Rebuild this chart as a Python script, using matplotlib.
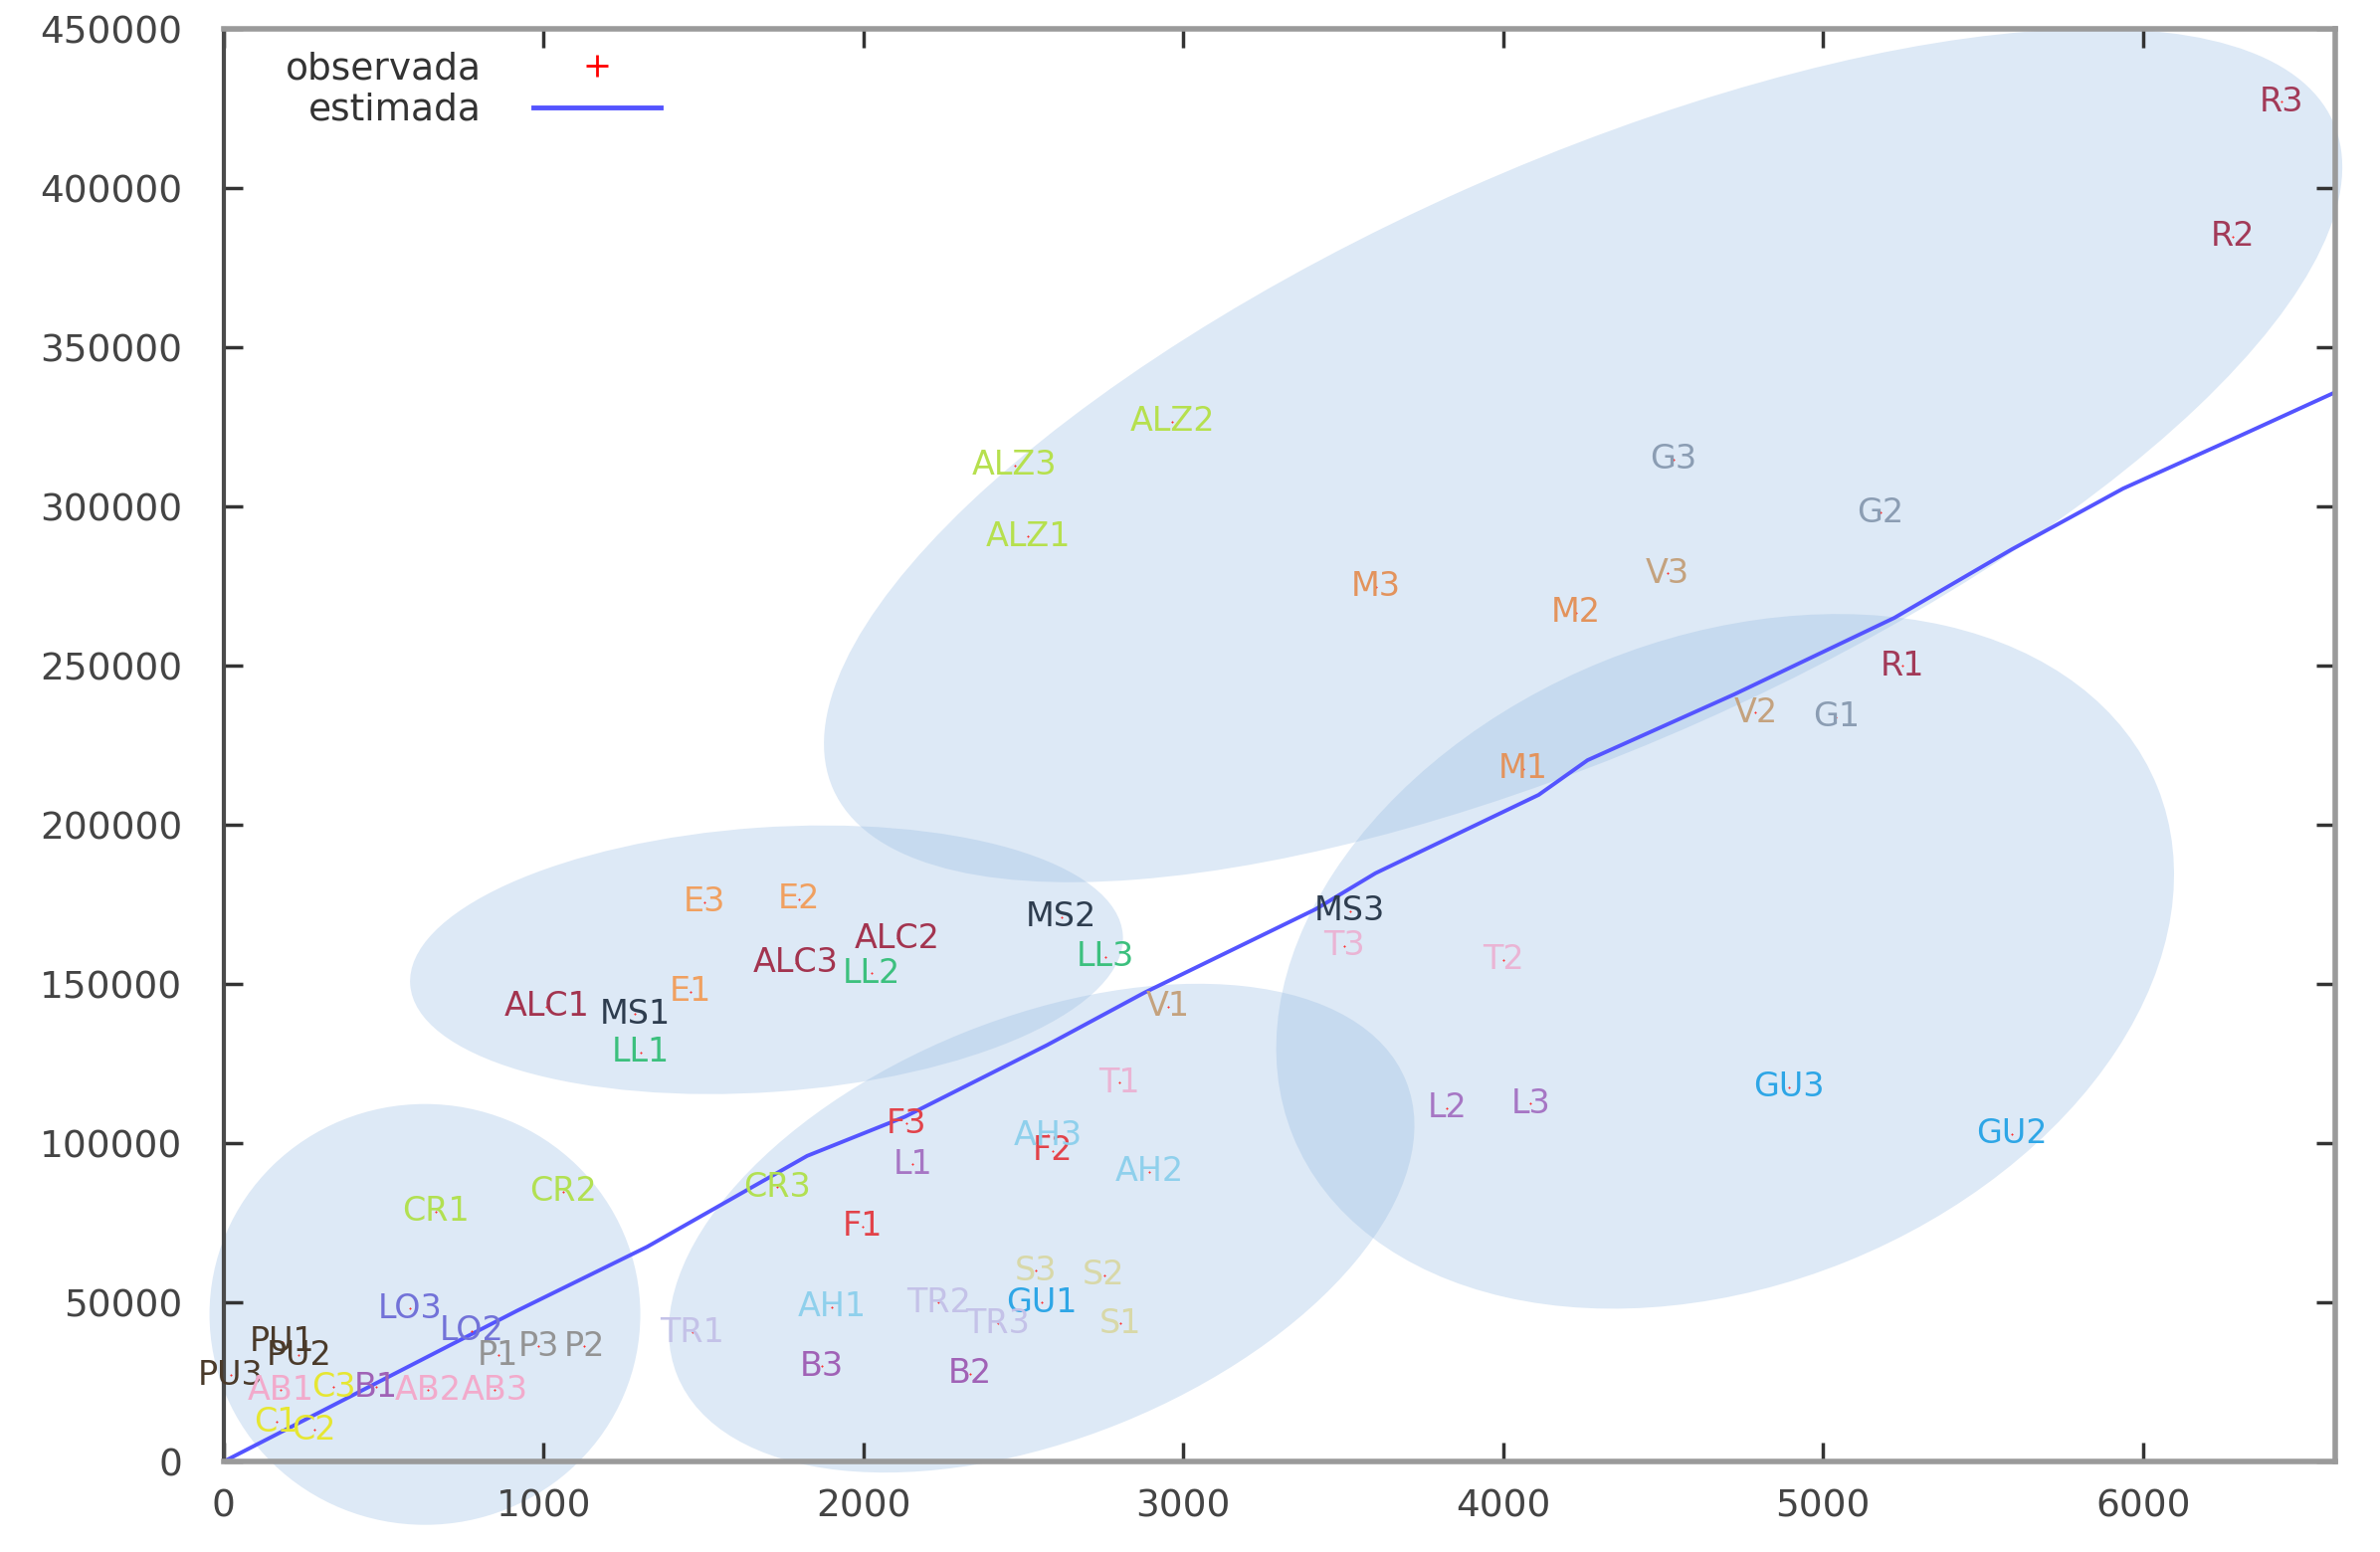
import numpy as np
import matplotlib
matplotlib.use("Agg")
import matplotlib.pyplot as plt
from matplotlib.patches import Ellipse
from matplotlib.transforms import IdentityTransform
from matplotlib.lines import Line2D

# observed points (label, x, y)
names = ["R3", "R2", "R1", "G3", "G2", "G1", "V3", "V2", "V1", "M3", "M2", "M1",
         "ALZ3", "ALZ2", "ALZ1", "MS3", "MS2", "MS1", "T3", "T2", "T1",
         "E3", "E2", "E1", "ALC2", "ALC3", "ALC1", "LL2", "LL3", "LL1",
         "L2", "L3", "L1", "GU3", "GU2", "GU1", "F3", "F2", "F1",
         "AH3", "AH2", "AH1", "CR1", "CR2", "CR3", "S3", "S2", "S1",
         "TR2", "TR3", "TR1", "B3", "B2", "LO3", "LO2", "P1", "P3", "P2",
         "PU1", "PU2", "PU3", "AB1", "AB2", "AB3", "C3", "B1", "C1", "C2"]
obs_x = [6432, 6280, 5249, 4532, 5179, 5041, 4513, 4789, 2951, 3602, 4228, 4062,
         2472, 2966, 2515, 3521, 2619, 1285, 3502, 4000, 2800,
         1503, 1797, 1460, 2106, 1789, 1009, 2026, 2757, 1304,
         3825, 4086, 2154, 4893, 5591, 2557, 2135, 2591, 1997,
         2576, 2894, 1902, 663, 1062, 1731, 2538, 2752, 2804,
         2235, 2420, 1465, 1869, 2334, 582, 775, 858, 985, 1128,
         183, 235, 21, 178, 639, 848, 344, 477, 164, 283]
obs_y = [427100, 384800, 250000, 314800, 298100, 233800, 279000, 235200, 142900,
         274800, 266700, 217600, 312900, 326700, 290500, 172900, 171000, 140500,
         161900, 157600, 119000, 175700, 176700, 147600, 164300, 156700, 142900,
         153300, 158600, 128600, 111000, 112400, 93300, 117600, 102900, 50000,
         106200, 97600, 73800, 102400, 91000, 48600, 78600, 84800, 86200,
         60000, 58600, 43300, 50000, 43300, 40500, 30000, 27600, 48100, 41000,
         33300, 36200, 36200, 37600, 33300, 27100, 22400, 22400, 22400, 23300,
         23300, 12400, 10000]

# estimated curve
est_x = [0, 918, 1323, 1824, 2130, 2574, 2879, 3414, 3601, 3775, 4111, 4264,
         4721, 5223, 5590, 5938, 6302, 6600]
est_y = [0, 47400, 67400, 96000, 108300, 130800, 147300, 173500, 184800, 193200,
         209400, 220300, 240900, 265000, 286500, 305600, 322100, 335800]

# groups: centre (data), width, height (pixels), angle (deg)
blob_cx = [629, 1697, 2557, 4694, 4250]
blob_cy = [46200, 157600, 73300, 157100, 316000]
blob_w = [433, 718, 790, 937, 1650]
blob_h = [423, 266, 423, 651, 585]
blob_ang = [0, 4, 22, 22, 24]

group_colors = {
    "R": "#a23a58", "G": "#8b9db3", "V": "#c4a27e", "M": "#e3935c",
    "ALZ": "#b6e04e", "MS": "#2e3d4f", "T": "#eab4d4", "E": "#f0a060",
    "ALC": "#a3344f", "LL": "#3cc07e", "L": "#a676c4", "GU": "#2ea6e6",
    "F": "#e2434a", "AH": "#8fd0ec", "CR": "#b2e052", "S": "#d8d8a8",
    "TR": "#c4c2e8", "B": "#a062b6", "LO": "#7272d8", "P": "#939393",
    "PU": "#4a3a2a", "AB": "#f2aacb", "C": "#e6e632",
}

fig = plt.figure(figsize=(23.92, 15.6), dpi=100)
ax = fig.add_axes([0.094, 0.0583, 0.887, 0.9231])
ax.set_xlim(0, 6600)
ax.set_ylim(0, 450000)

for cx, cy, w, h, a in zip(blob_cx, blob_cy, blob_w, blob_h, blob_ang):
    px, py = ax.transData.transform((cx, cy))
    e = Ellipse((px, py), w, h, angle=a, transform=IdentityTransform(),
                facecolor="#96bbe3", edgecolor="none", alpha=0.32,
                zorder=1, clip_on=False)
    ax.add_patch(e)

ax.plot(est_x, est_y, color="#5454ff", lw=2.8, zorder=2)
ax.plot(obs_x, obs_y, "+", color="#ff3030", ms=2, mew=0.8, zorder=3)

for n, x, y in zip(names, obs_x, obs_y):
    g = n.rstrip("0123456789")
    ax.text(x, y, n, color=group_colors[g], fontsize=24, ha="center",
            va="center", zorder=4)

handles = [Line2D([], [], ls="none", marker="+", color="red", ms=16, mew=2),
           Line2D([], [], color="#5454ff", lw=3.5)]
leg = ax.legend(handles, ["observada", "estimada"], loc="upper left",
                bbox_to_anchor=(0.022, 0.995), frameon=False, markerfirst=False,
                fontsize=27, handlelength=3.4, handletextpad=1.4,
                labelspacing=0.15, borderaxespad=0)
for t in leg.get_texts():
    t.set_color("#333333")

ax.set_xticks(np.arange(0, 6001, 1000))
ax.set_yticks(np.arange(0, 450001, 50000))
ax.xaxis.set_major_formatter(plt.FuncFormatter(lambda v, p: f"{int(v)}"))
ax.yaxis.set_major_formatter(plt.FuncFormatter(lambda v, p: f"{int(v)}"))
ax.tick_params(direction="in", length=14, width=2.5, colors="#333333",
               labelsize=27, top=True, right=True)
ax.tick_params(axis="y", pad=30)
ax.tick_params(axis="x", pad=20)
for lab in ax.get_xticklabels() + ax.get_yticklabels():
    lab.set_color("#444444")

ax.spines["left"].set_color("#4a4a4a")
ax.spines["left"].set_linewidth(3)
for s in ["top", "bottom", "right"]:
    ax.spines[s].set_color("#9a9a9a")
    ax.spines[s].set_linewidth(4)

fig.savefig("out.png", dpi=100)
